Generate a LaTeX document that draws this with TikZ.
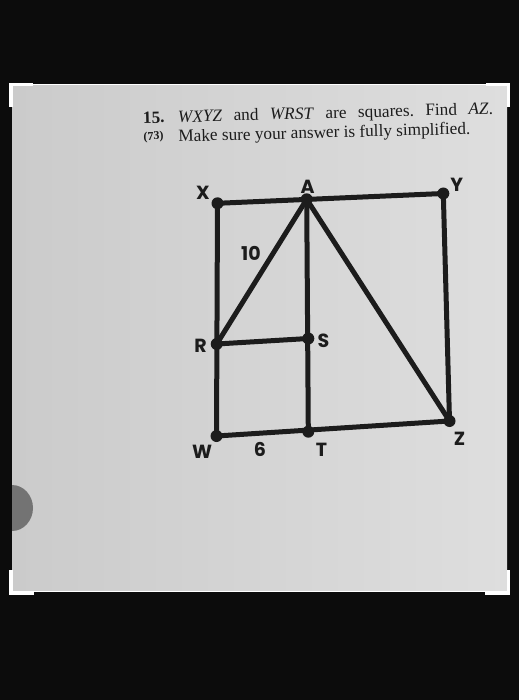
\documentclass[tikz,border=0pt]{standalone}
\usepackage{fontspec}
\setmainfont{Liberation Serif}
\newfontfamily\lblfont{Poppins}
\definecolor{bgblack}{RGB}{12,12,12}
\definecolor{paperL}{RGB}{203,203,203}
\definecolor{paperR}{RGB}{222,222,222}
\definecolor{ink}{RGB}{28,28,28}
\definecolor{thumb}{RGB}{115,115,115}
\begin{document}
\frenchspacing
\begin{tikzpicture}[x=1pt,y=-1pt,
  seg/.style={draw=ink,line width=5pt,line cap=round,line join=round},
  lbl/.style={inner sep=0pt,text=ink,font=\lblfont\bfseries\fontsize{19}{19}\selectfont},
  txt/.style={inner sep=0pt,anchor=base west,text=ink,rotate=1.5},
  dotr/.style={fill=ink}]
\useasboundingbox (0,0) rectangle (519,700);
\fill[bgblack] (0,0) rectangle (519,700);
% paper
\shade[left color=paperL,right color=paperR] (12,85) rectangle (507,591);
\begin{scope}
\clip (12,85) rectangle (507,591);
\fill[thumb] (12,508) ellipse [x radius=21, y radius=23];
\end{scope}
% white crop frame
\draw[white,line width=1.5pt] (12,84.5) -- (507,84.5);
\draw[white,line width=1.5pt] (12,591.5) -- (507,591.5);
\fill[white] (9,83) rectangle (33,86.5);
\fill[white] (9,83) rectangle (12.5,107);
\fill[white] (486,83) rectangle (510,86.5);
\fill[white] (506.5,83) rectangle (510,107);
\fill[white] (9,591) rectangle (34,595);
\fill[white] (9,570) rectangle (12.5,595);
\fill[white] (485,591) rectangle (510,595);
\fill[white] (506.5,570) rectangle (510,595);
% text
\node[txt] (question) at (143,123.3) {\fontsize{17.2}{19.4}\selectfont
  \begin{tabular}[t]{@{}l@{}l@{}}
  \makebox[35pt][l]{\textbf{15.}} & \makebox[315pt][s]{\textit{WXYZ} and \textit{WRST} are squares. Find \textit{AZ}.}\\
  \makebox[35pt][l]{\raisebox{2.5pt}{\fontsize{12}{12}\selectfont\textbf{(73)}}} & Make sure your answer is fully simplified.
  \end{tabular}};
% points
\coordinate (X) at (217.5,203.3);
\coordinate (A) at (306.7,199.3);
\coordinate (Y) at (443.3,193.5);
\coordinate (R) at (216.7,344);
\coordinate (S) at (308.3,338.5);
\coordinate (W) at (216.5,436);
\coordinate (T) at (308.3,431.7);
\coordinate (Z) at (449.5,421);
% segments
\draw[seg] (X) -- (Y) -- (Z) -- (W) -- cycle;
\draw[seg] (A) -- (T);
\draw[seg] (R) -- (S);
\draw[seg] (R) -- (A) -- (Z);
% dots
\foreach \p in {X,A,Y,R,S,W,T,Z} \fill[dotr] (\p) circle (6);
% labels
\node[lbl] (lX) at (203,192.5) {X};
\node[lbl] (lA) at (307.7,186.5) {A};
\node[lbl] (lY) at (456.7,185) {Y};
\node[lbl] (l10) at (251,253) {10};
\node[lbl] (lR) at (200.5,346) {R};
\node[lbl] (lS) at (323.5,340.5) {S};
\node[lbl] (lW) at (202,451.5) {W};
\node[lbl] (l6) at (260,449.5) {6};
\node[lbl] (lT) at (321.5,449.5) {T};
\node[lbl] (lZ) at (459.5,439) {Z};
\end{tikzpicture}
\end{document}
